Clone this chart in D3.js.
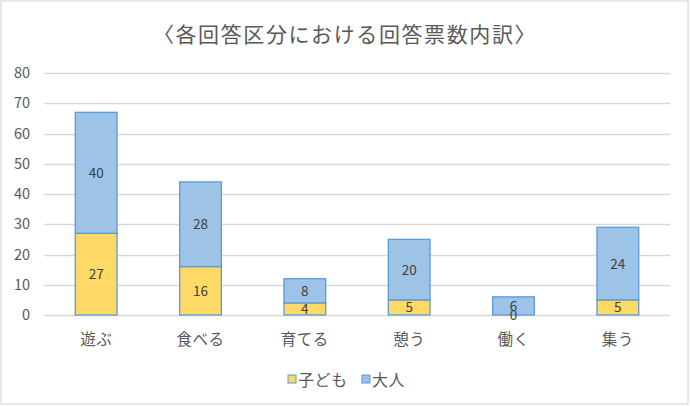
<!DOCTYPE html>
<html>
<head>
<meta charset="utf-8">
<script src="https://cdn.jsdelivr.net/npm/d3@7"></script>
<style>
body{margin:0;background:#fff;}
text{font-family:"Noto Sans CJK JP","Noto Sans",sans-serif;}
</style>
</head>
<body>
<script>
var categories = ["遊ぶ","食べる","育てる","憩う","働く","集う"];
var kids = [27,16,4,5,0,5];
var adults = [40,28,8,20,6,24];
var seriesNames = ["子ども","大人"];
var yTicks = [0,10,20,30,40,50,60,70,80];

var W = 690, H = 406;
var margin = {left:44, right:20, top:73, bottom:91};

var svg = d3.select('body').append('svg').attr('width',W).attr('height',H);

// chart frame
svg.append('rect').attr('x',1).attr('y',1).attr('width',W-3).attr('height',H-3)
	.attr('fill','#fff').attr('stroke','#d9d9d9').attr('stroke-width',1.2);

svg.append('text').attr('x',W/2).attr('y',42).attr('text-anchor','middle')
	.attr('font-size',21).attr('letter-spacing',1.6).attr('fill','#595959').text('〈各回答区分における回答票数内訳〉');

var x = d3.scaleBand().domain(categories).range([margin.left, W-margin.right]).paddingInner(0.6).paddingOuter(0.3);
var y = d3.scaleLinear().domain([0,80]).range([H-margin.bottom, margin.top]);

// gridlines
svg.append('g').selectAll('line').data(yTicks).enter().append('line')
	.attr('x1',margin.left).attr('x2',W-margin.right)
	.attr('y1',function(d){return Math.round(y(d))+0.5;}).attr('y2',function(d){return Math.round(y(d))+0.5;})
	.attr('stroke','#d9d9d9').attr('stroke-width',1.3);

svg.append('g').selectAll('text').data(yTicks).enter().append('text')
	.attr('x',30).attr('y',function(d){return y(d)+5;}).attr('text-anchor','end')
	.attr('font-size',14.5).attr('fill','#595959').text(function(d){return d;});

var stackData = categories.map(function(c,i){return {cat:c, k:kids[i], a:adults[i]};});
var stack = d3.stack().keys(['k','a'])(stackData);
var fills = ['#ffd966','#9dc3e6'];

svg.append('g').selectAll('g').data(stack).enter().append('g')
	.attr('fill',function(d,i){return fills[i];})
	.selectAll('rect').data(function(d){return d;}).enter().append('rect')
	.attr('x',function(d){return x(d.data.cat);})
	.attr('width',x.bandwidth())
	.attr('y',function(d){return y(d[1]);})
	.attr('height',function(d){return y(d[0])-y(d[1]);})
	.attr('stroke','#5b9bd5').attr('stroke-width',1.3);

// data labels (the 0 sits on the base line, overlapping the 6 as in the original)
stack.forEach(function(layer){
	svg.append('g').selectAll('text').data(layer).enter().append('text')
		.attr('x',function(d){return x(d.data.cat)+x.bandwidth()/2;})
		.attr('y',function(d){return (y(d[0])+y(d[1]))/2+5;})
		.attr('text-anchor','middle').attr('font-size',13.5).attr('fill','#404040')
		.text(function(d){return d[1]-d[0];});
});

// x labels
svg.append('g').selectAll('text').data(categories).enter().append('text')
	.attr('x',function(d){return x(d)+x.bandwidth()/2;}).attr('y',H-margin.bottom+30)
	.attr('text-anchor','middle').attr('font-size',15.5).attr('letter-spacing',0.5).attr('fill','#595959').text(function(d){return d;});

// legend
var lg = svg.append('g').attr('transform','translate(288,386)');
seriesNames.forEach(function(n,i){
	var g = lg.append('g').attr('transform','translate('+(i*74)+',0)');
	g.append('rect').attr('x',0).attr('y',-11).attr('width',8).attr('height',8)
		.attr('fill',fills[i]).attr('stroke','#5b9bd5').attr('stroke-width',1);
	g.append('text').attr('x',10).attr('y',0).attr('font-size',16).attr('letter-spacing',0.5).attr('fill','#595959').text(n);
});
</script>
</body>
</html>
